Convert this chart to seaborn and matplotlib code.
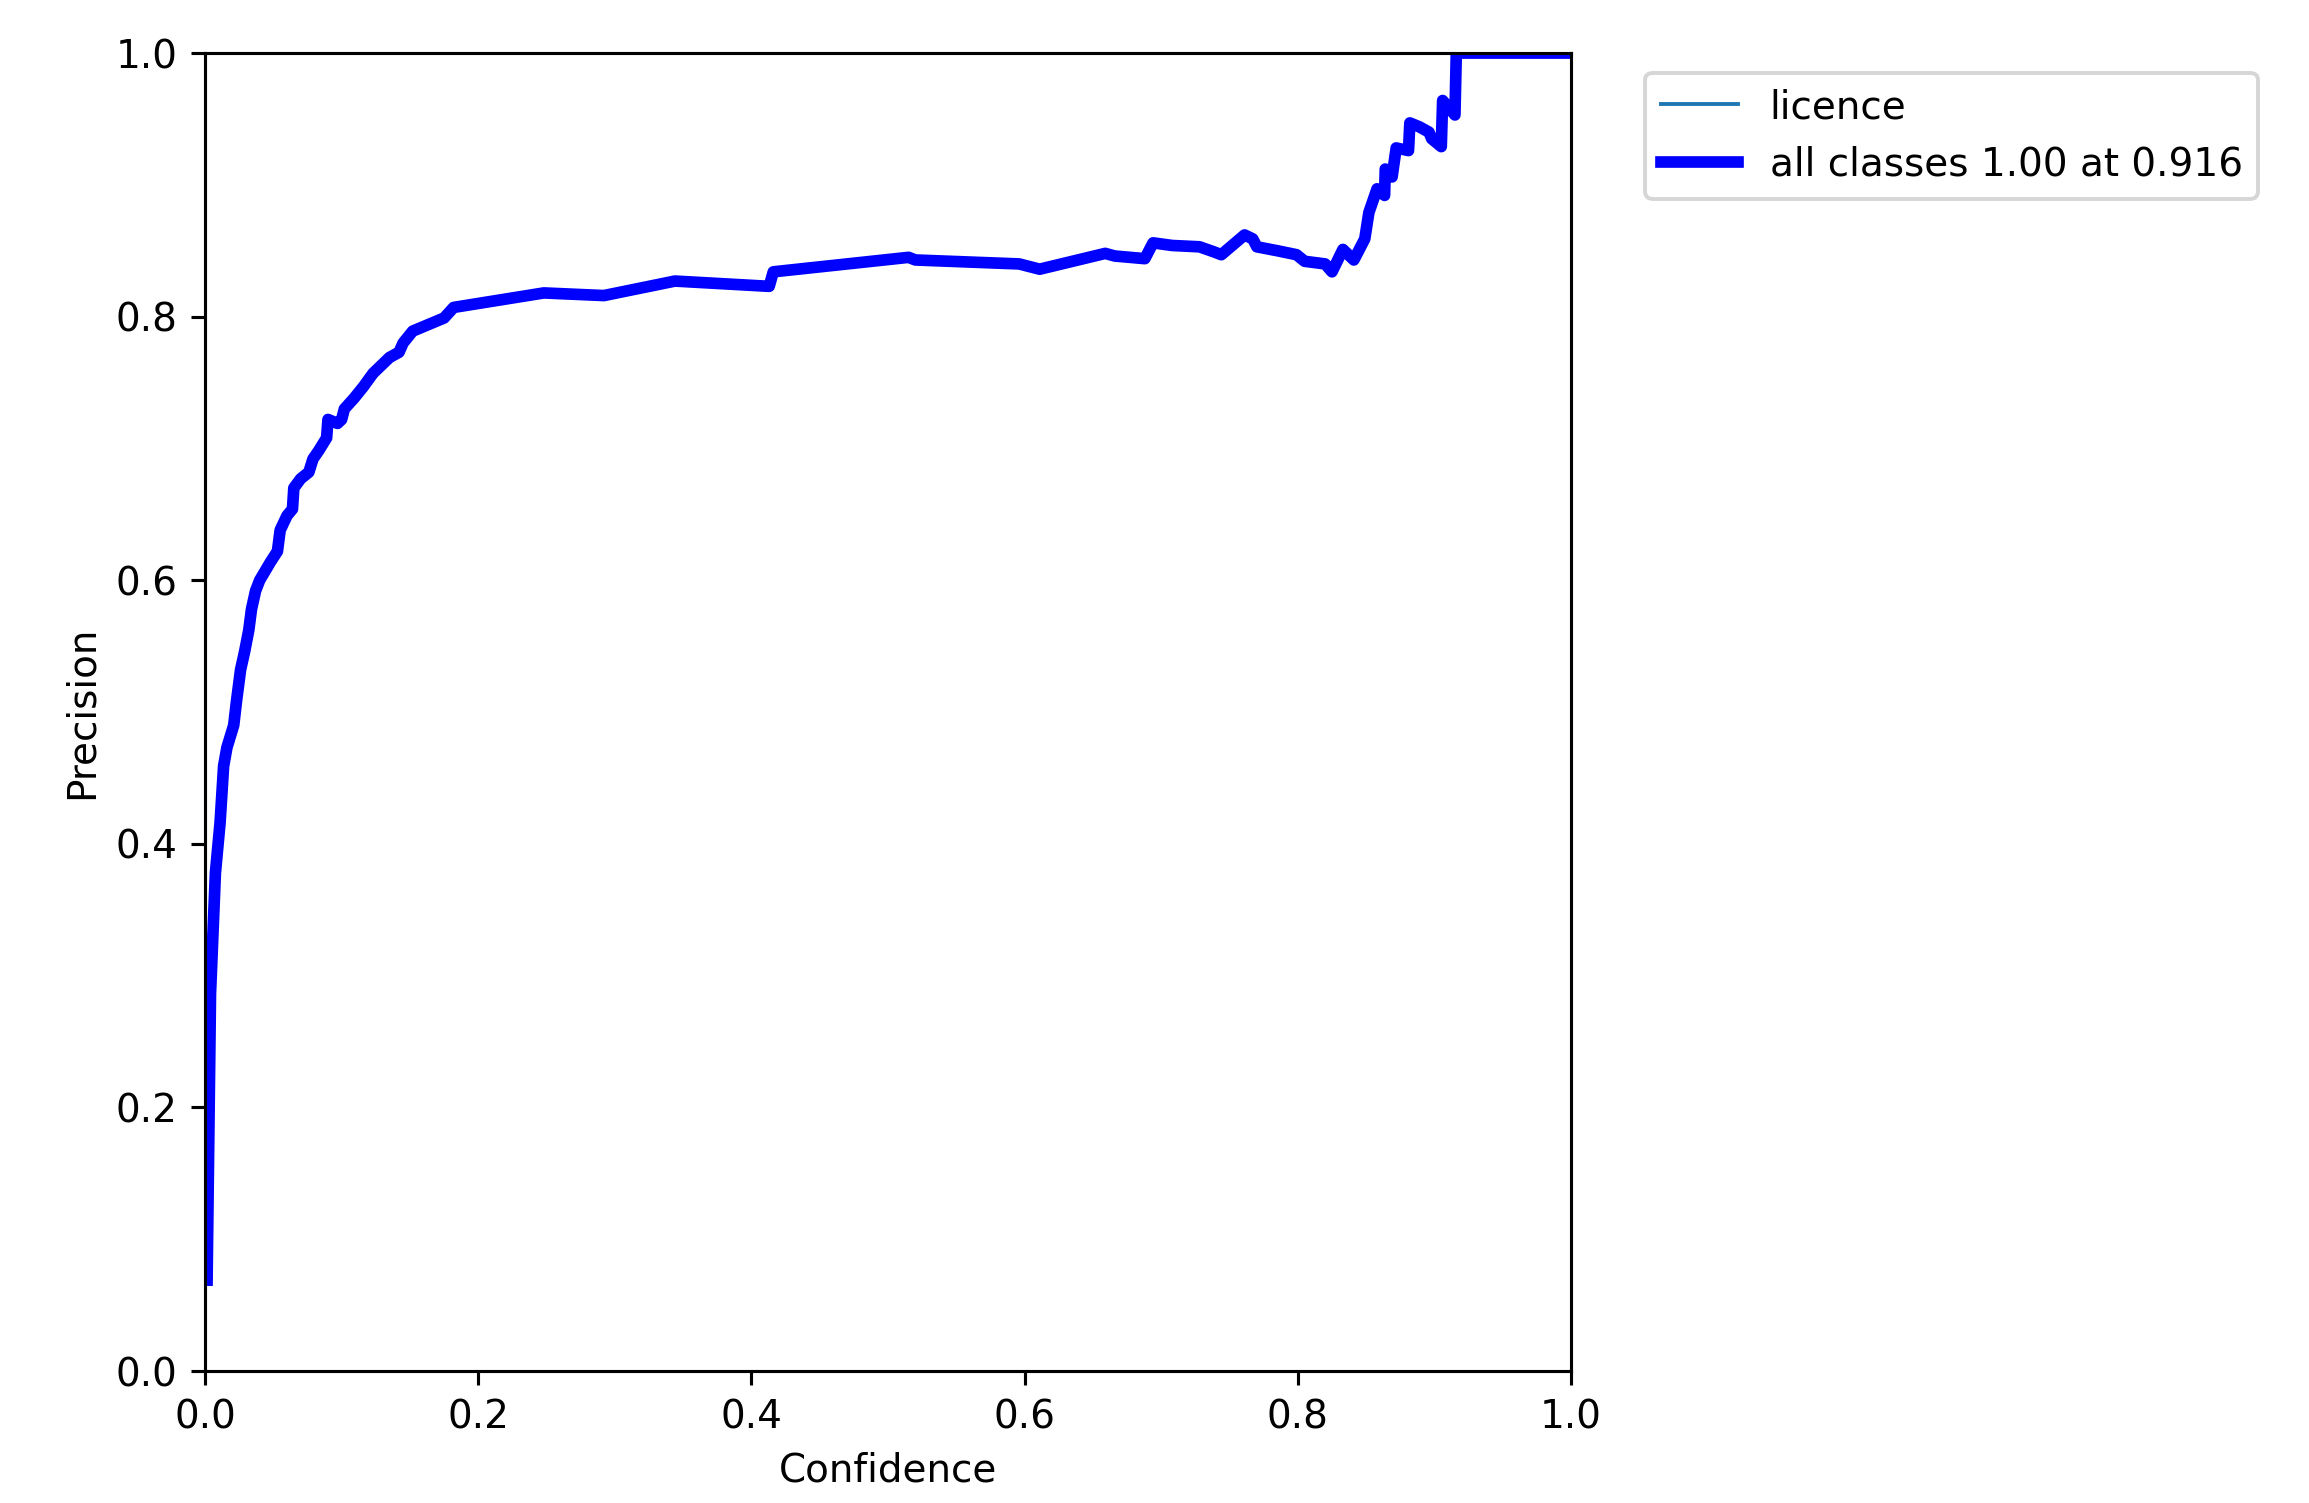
import numpy as np
import pandas as pd
import matplotlib
matplotlib.use("Agg")
import matplotlib.pyplot as plt
import seaborn as sns

# Precision-confidence curve values
conf = [0.0015, 0.004, 0.0076, 0.011, 0.0136, 0.016, 0.021, 0.023, 0.026, 0.029,
        0.032, 0.034, 0.037, 0.040, 0.048, 0.053, 0.055, 0.060, 0.064, 0.065,
        0.070, 0.076, 0.079, 0.083, 0.089, 0.090, 0.097, 0.100, 0.102, 0.109,
        0.116, 0.123, 0.135, 0.142, 0.145, 0.152, 0.175, 0.182, 0.248, 0.292,
        0.344, 0.413, 0.416, 0.515, 0.520, 0.596, 0.611, 0.659, 0.666, 0.688,
        0.694, 0.708, 0.728, 0.739, 0.744, 0.761, 0.767, 0.770, 0.785, 0.799,
        0.805, 0.820, 0.825, 0.833, 0.841, 0.849, 0.852, 0.858, 0.8635, 0.864,
        0.869, 0.872, 0.881, 0.882, 0.889, 0.896, 0.898, 0.905, 0.906, 0.915,
        0.916, 1.0]
precision = [0.069, 0.286, 0.378, 0.416, 0.459, 0.473, 0.490, 0.508, 0.532, 0.546,
             0.562, 0.578, 0.592, 0.600, 0.614, 0.622, 0.638, 0.649, 0.654, 0.670,
             0.677, 0.682, 0.692, 0.698, 0.708, 0.722, 0.719, 0.722, 0.730, 0.738,
             0.747, 0.757, 0.769, 0.773, 0.780, 0.789, 0.799, 0.807, 0.818, 0.816,
             0.827, 0.823, 0.834, 0.845, 0.843, 0.840, 0.836, 0.848, 0.846, 0.844,
             0.856, 0.854, 0.853, 0.849, 0.847, 0.862, 0.859, 0.853, 0.850, 0.847,
             0.842, 0.840, 0.834, 0.851, 0.843, 0.859, 0.879, 0.897, 0.892, 0.912,
             0.906, 0.928, 0.926, 0.947, 0.944, 0.940, 0.935, 0.929, 0.964, 0.953,
             1.0, 1.0]

class_name = "licence"
best_conf = 0.916
best_prec = 1.00

df = pd.DataFrame({"Confidence": conf, "Precision": precision})

DPI = 280
fig = plt.figure(figsize=(2309 / DPI, 1503 / DPI), dpi=DPI)
ax = fig.add_axes([0.0888, 0.0878, 0.5916, 0.8769])

sns.lineplot(data=df, x="Confidence", y="Precision", ax=ax, linewidth=1,
             color="tab:blue", estimator=None, label=class_name)
sns.lineplot(data=df, x="Confidence", y="Precision", ax=ax, linewidth=3,
             color="blue", estimator=None,
             label=f"all classes {best_prec:.2f} at {best_conf:.3f}")

ax.set_xlim(0, 1)
ax.set_ylim(0, 1)
ax.set_xlabel("Confidence")
ax.set_ylabel("Precision")
ax.legend(bbox_to_anchor=(1.04, 1), loc="upper left")

fig.savefig("out.png", dpi=DPI)
